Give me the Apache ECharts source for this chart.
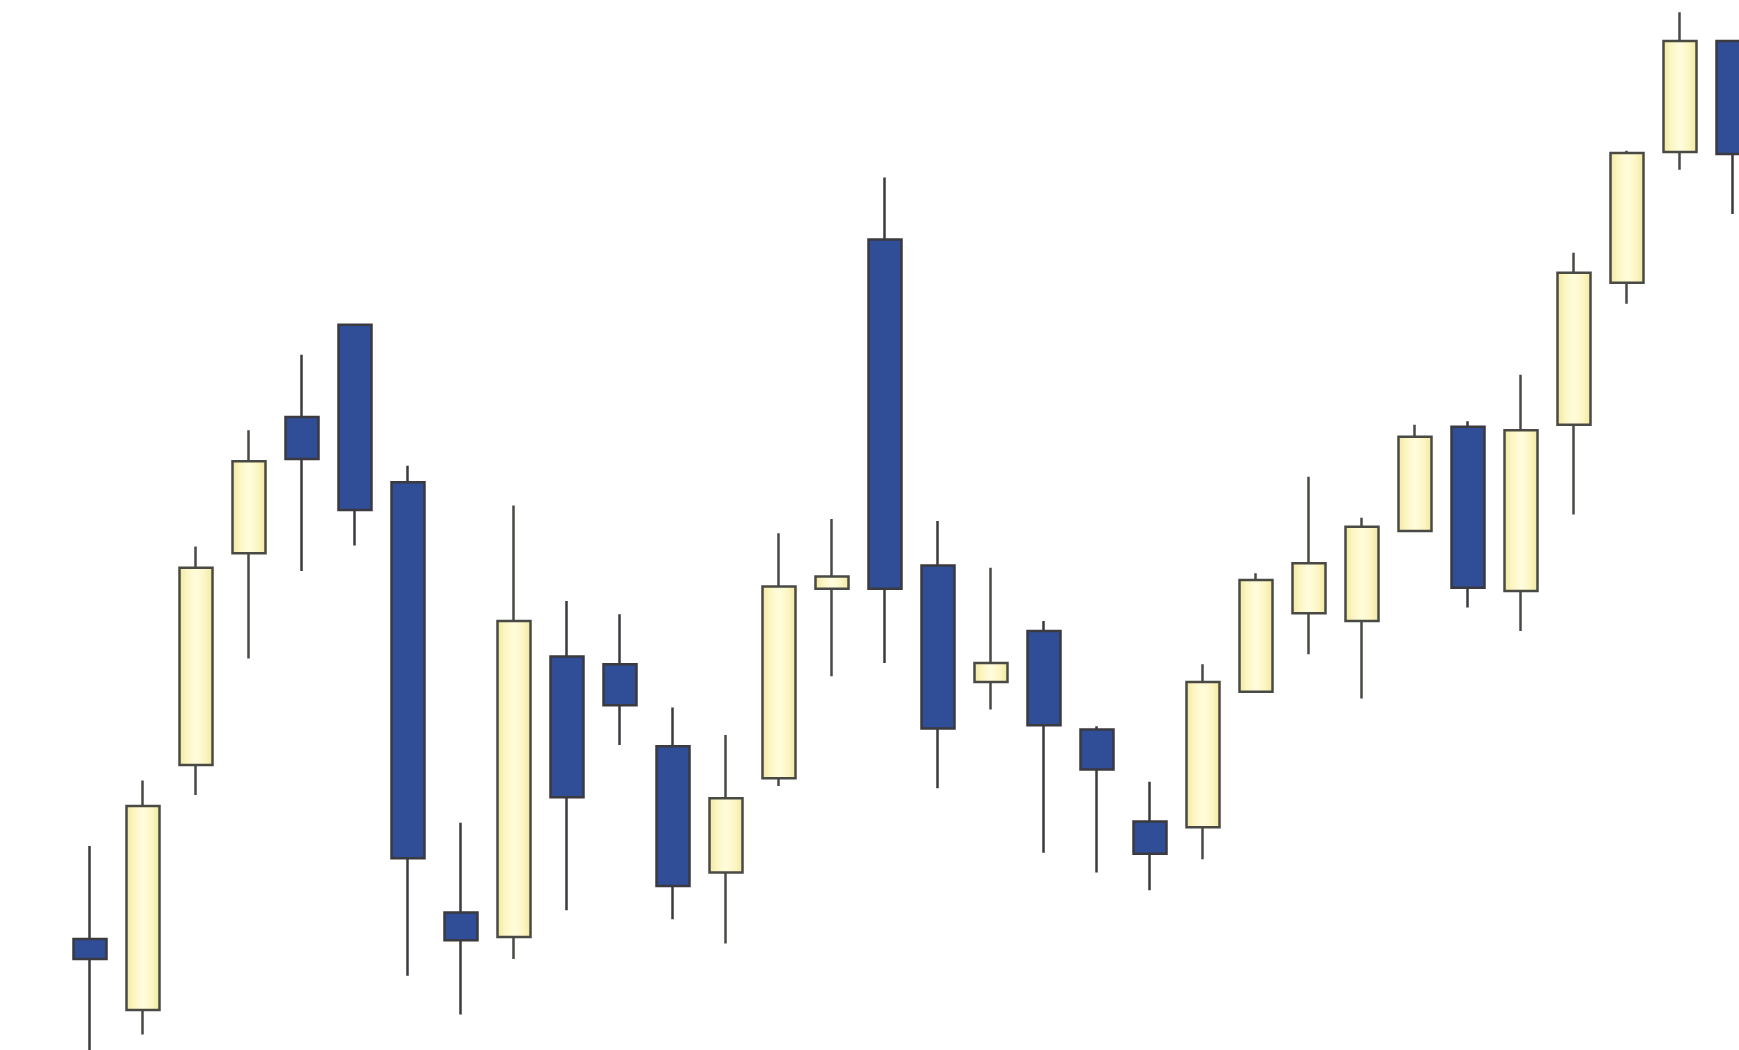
<!DOCTYPE html>
<html>
<head>
<meta charset="utf-8">
<script src="https://cdn.jsdelivr.net/npm/echarts@6/dist/echarts.min.js"></script>
<style>
  html, body { margin: 0; padding: 0; background: #ffffff; }
  #chart { width: 1739px; height: 1050px; }
</style>
</head>
<body>
<div id="chart"></div>
<script>
// Sessions (no labels shown in the reference)
const categories = ['1','2','3','4','5','6','7','8','9','10','11','12','13','14','15','16',
                    '17','18','19','20','21','22','23','24','25','26','27','28','29','30','31','32'];
// Price values (arbitrary units)
const opens  = [100, 36, 257, 448, 571, 654, 512, 124, 102, 355, 348, 274, 160, 245, 416, 731,
                437, 332, 378, 289, 206, 201, 323, 394, 387, 468, 562, 414, 564, 692, 810, 910];
const closes = [ 82, 220, 435, 531, 533, 487, 173, 99, 387, 228, 311, 148, 227, 418, 427, 416,
                290, 349, 293, 253, 177, 332, 424, 439, 472, 553, 417, 559, 701, 809, 910, 808];
const lows   = [-20, 14, 230, 353, 432, 455, 67, 32, 82, 126, 275, 118, 96, 238, 337, 349,
                236, 307, 178, 160, 144, 172, 323, 357, 317, 468, 399, 378, 483, 673, 794, 754];
const highs  = [184, 243, 454, 559, 627, 654, 527, 205, 491, 405, 393, 309, 284, 466, 479, 787,
                477, 435, 387, 292, 242, 348, 430, 517, 480, 564, 567, 609, 719, 811, 936, 910];

const ohlc = categories.map((c, i) => [opens[i], closes[i], lows[i], highs[i]]);

const upFill = {
  type: 'linear', x: 0, y: 0, x2: 1, y2: 0,
  colorStops: [
    { offset: 0, color: '#f1e79a' },
    { offset: 0.25, color: '#fcf6c4' },
    { offset: 0.5, color: '#fffcdc' },
    { offset: 0.75, color: '#fcf6c4' },
    { offset: 1, color: '#f1e79a' }
  ]
};

const chart = echarts.init(document.getElementById('chart'), null, { renderer: 'canvas' });
chart.setOption({
  animation: false,
  backgroundColor: '#ffffff',
  grid: { left: 90, top: 0, width: 1643, height: 1050, containLabel: false },
  xAxis: {
    type: 'category',
    data: categories,
    boundaryGap: false,
    axisLine: { show: false },
    axisTick: { show: false },
    axisLabel: { show: false },
    splitLine: { show: false }
  },
  yAxis: {
    type: 'value',
    min: 0,
    max: 947,
    axisLine: { show: false },
    axisTick: { show: false },
    axisLabel: { show: false },
    splitLine: { show: false }
  },
  series: [{
    type: 'candlestick',
    data: ohlc,
    barWidth: 33,
    clip: false,
    itemStyle: {
      color: upFill,
      color0: '#2f4e97',
      borderColor: '#4a4a44',
      borderColor0: '#3a3a40',
      borderWidth: 2.5
    }
  }]
});
</script>
</body>
</html>
